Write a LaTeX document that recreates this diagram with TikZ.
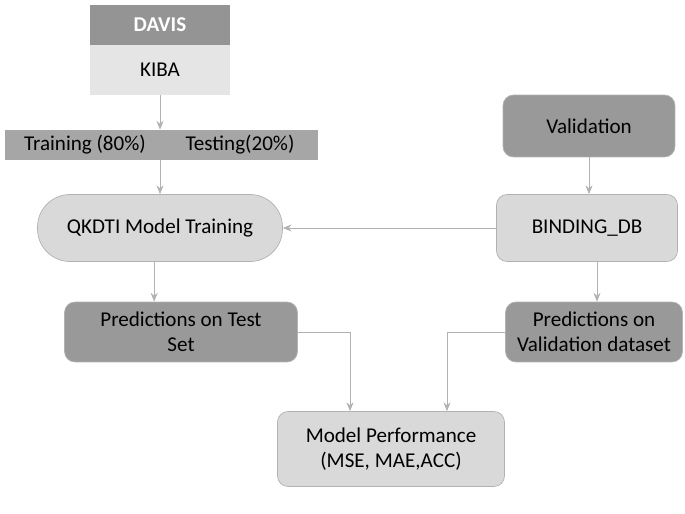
\documentclass[tikz,border=0pt]{standalone}
\usepackage{fontspec}
\setmainfont{Carlito}
\usetikzlibrary{arrows.meta, positioning}

\begin{document}
\begin{tikzpicture}[
    x=0.02cm, y=-0.02cm,
    box/.style={draw=gray!60, rounded corners=6pt, font=\large, align=center, inner sep=2pt},
    dark/.style={box, fill=black!40},
    light/.style={box, fill=black!15},
    arr/.style={-{Stealth[length=5pt,width=4pt]}, draw=black!30, thin}
]
    \useasboundingbox (0,0) rectangle (685,513);

    % Datasets
    \node[fill=black!42, minimum width=2.8cm, minimum height=0.8cm, text=white, font=\large\bfseries] (davis) at (160,25) {DAVIS};
    \node[fill=black!10, minimum width=2.8cm, minimum height=1cm, font=\large] (kiba) at (160,70) {KIBA};
    \node[fill=black!35, minimum width=6.26cm, minimum height=0.6cm] (split) at (161.5,145) {};
    \node[font=\large] (train) at (85,145) {Training (80\%)};
    \node[font=\large] (test) at (240,145) {Testing(20\%)};

    % Main nodes
    \node[light, rounded corners=0.65cm, minimum width=4.9cm, minimum height=1.34cm] (qkdti) at (160,228) {QKDTI Model Training};
    \node[dark, minimum width=3.44cm, minimum height=1.24cm] (valid) at (589,126) {Validation};
    \node[light, minimum width=3.62cm, minimum height=1.34cm] (bind) at (587,228) {BINDING\_DB};
    \node[dark, minimum width=4.66cm, minimum height=1.2cm] (predtest) at (181,332) {Predictions on Test\\Set};
    \node[dark, minimum width=3.54cm, minimum height=1.2cm] (predval) at (594,332) {Predictions on\\Validation dataset};
    \node[light, minimum width=4.54cm, minimum height=1.5cm] (perf) at (391,449) {Model Performance\\(MSE, MAE,ACC)};

    % Connectors
    \draw[arr] (kiba.south) -- (split.north -| kiba.south);
    \draw[arr] (split.south -| kiba.south) -- (qkdti.north -| kiba.south);
    \draw[arr] (valid.south) -- (bind.north -| valid.south);
    \draw[arr] (bind) -- (qkdti);
    \draw[arr] (qkdti.south -| predtest.north west) ++(90,0) coordinate (qa) -- (qa |- predtest.north);
    \draw[arr] (bind.south) ++(10,0) coordinate (ba) -- (ba |- predval.north);
    \draw[arr] (predtest.east) -| (350,0 |- perf.north);
    \draw[arr] (predval.west) -| (447,0 |- perf.north);
\end{tikzpicture}
\end{document}
